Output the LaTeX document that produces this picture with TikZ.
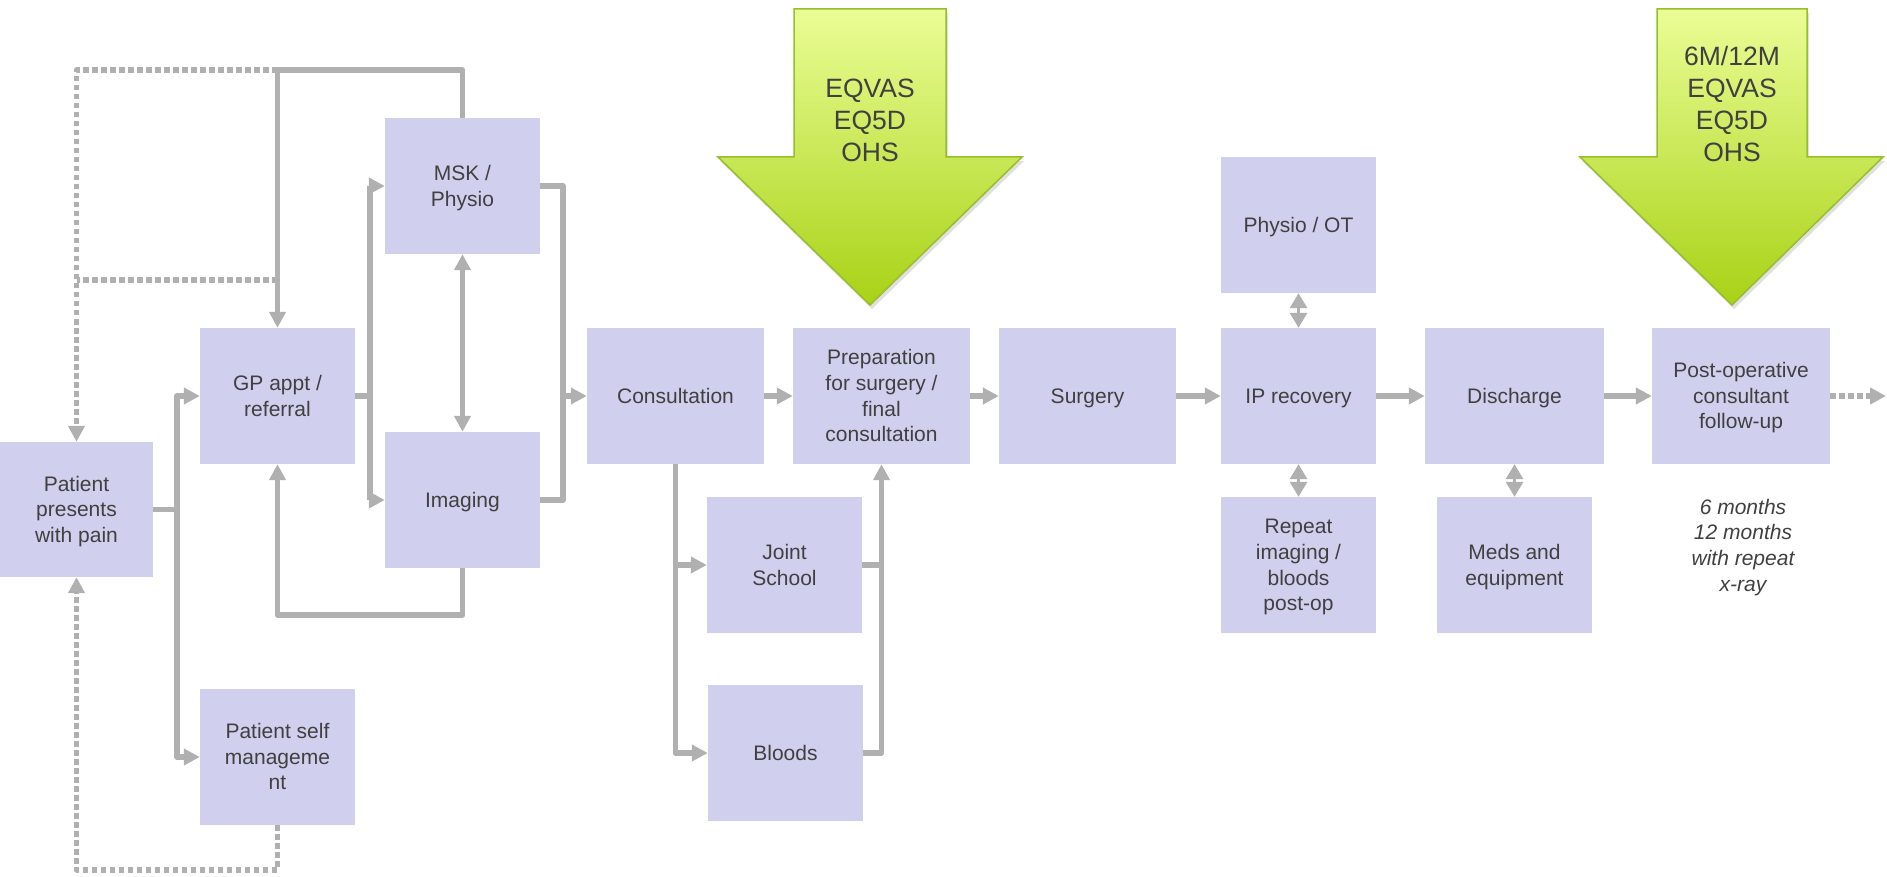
\documentclass[tikz,border=0pt]{standalone}
\usepackage{fontspec}
\setmainfont{Liberation Sans}
\usetikzlibrary{arrows.meta}
\definecolor{boxfill}{RGB}{208,207,238}
\definecolor{txt}{RGB}{64,64,64}
\definecolor{lnk}{RGB}{176,176,176}
\definecolor{gtop}{RGB}{234,253,150}
\definecolor{gbot}{RGB}{168,210,22}
\definecolor{gedge}{RGB}{150,190,45}
\newcommand\lstr{\rule[-0.212em]{0pt}{1.117em}}
\begin{document}
\begin{tikzpicture}[x=1pt,y=-1pt,
  box/.style={fill=boxfill, inner sep=0pt, minimum height=136pt, minimum width=155pt, text=txt, align=center, font=\fontsize{21}{25.6}\selectfont},
  wide/.style={minimum width=177pt},
  conn/.style={draw=lnk, line width=5.5pt, line join=round},
  arr/.style={conn, -{Triangle[length=16pt,width=16pt]}},
  dots/.style={conn, dash pattern=on 5.5pt off 3.5pt},
  dotarr/.style={dots, -{Triangle[length=16pt,width=16pt]}},
  dblwide/.style={conn, {Triangle[length=16pt,width=16pt]}-{Triangle[length=16pt,width=16pt]}},
  dbl/.style={draw=lnk, line width=3pt, {Triangle[length=15pt,width=17pt]}-{Triangle[length=15pt,width=17pt]}},
  bigarrow/.style={draw=gedge, line width=1.5pt, top color=gtop, bottom color=gbot},
  bigshadow/.style={fill=black, opacity=0.12},
  bigtext/.style={text=txt, align=center, font=\fontsize{26.5}{32}\selectfont, anchor=south, inner sep=0pt},
]
\useasboundingbox (0,0) rectangle (1887,877);

% green measurement arrows
\begin{scope}[shift={(2,4)}]
\path[bigshadow] (794,9) -- (946,9) -- (946,157) -- (1022,157) -- (870,305) -- (718,157) -- (794,157) -- cycle;
\path[bigshadow] (1657,9) -- (1807,9) -- (1807,157) -- (1883,157) -- (1732,305) -- (1580,157) -- (1657,157) -- cycle;
\end{scope}
\path[bigarrow] (794,9) -- (946,9) -- (946,157) -- (1022,157) -- (870,305) -- (718,157) -- (794,157) -- cycle;
\path[bigarrow] (1657,9) -- (1807,9) -- (1807,157) -- (1883,157) -- (1732,305) -- (1580,157) -- (1657,157) -- cycle;
\node[bigtext] (m1) at (870,167.6) {\lstr EQVAS\\\lstr EQ5D\\\lstr OHS};
\node[bigtext] (m2) at (1732,167.6) {\lstr 6M/12M\\\lstr EQVAS\\\lstr EQ5D\\\lstr OHS};

% boxes
\node[box, minimum width=153pt, minimum height=135pt] (patient) at (76.5,509.5) {\lstr Patient\\\lstr presents\\\lstr with pain};
\node[box] (gp) at (277.5,396) {\lstr GP appt /\\\lstr referral};
\node[box] (self) at (277.5,757) {\lstr Patient self\\\lstr manageme\\\lstr nt};
\node[box] (msk) at (462.5,186) {\lstr MSK /\\\lstr Physio};
\node[box] (imaging) at (462.5,500) {\lstr Imaging};
\node[box,wide] (cons) at (675.5,396) {\lstr Consultation};
\node[box,wide] (prep) at (881.5,396) {\lstr Preparation\\\lstr for surgery /\\\lstr final\\\lstr consultation};
\node[box,wide] (surgery) at (1087.5,396) {\lstr Surgery};
\node[box] (ip) at (1298.5,396) {\lstr IP recovery};
\node[box] (physio) at (1298.5,225) {\lstr Physio / OT};
\node[box] (repeat) at (1298.5,565) {\lstr Repeat\\\lstr imaging /\\\lstr bloods\\\lstr post-op};
\node[box, minimum width=179pt] (discharge) at (1514.5,396) {\lstr Discharge};
\node[box] (meds) at (1514.5,565) {\lstr Meds and\\\lstr equipment};
\node[box, minimum width=178pt] (postop) at (1741,396) {\lstr Post-operative\\\lstr consultant\\\lstr follow-up};
\node[box] (joint) at (784.5,565) {\lstr Joint\\\lstr School};
\node[box] (bloods) at (785.5,753) {\lstr Bloods};
\node[text=txt, align=center, font=\fontsize{21}{25.6}\selectfont\itshape, anchor=north, inner sep=0pt] (note) at (1743,495) {\lstr 6 months\\\lstr 12 months\\\lstr with repeat\\\lstr x-ray};

% helper coordinates
\coordinate (jl) at (177,509.5);
\coordinate (js) at (370,396);
\coordinate (jr) at (563,396);
\coordinate (yb) at (0,615);
\coordinate (yt) at (0,70);
\coordinate (ym) at (0,280);
\coordinate (yd) at (0,870);
\coordinate (far) at (1886,396);

% left part
\draw[conn] (patient.east) -- (jl);
\draw[arr] (jl) |- (gp.west);
\draw[arr] (jl) |- (self.west);
\draw[conn] (gp.east) -- (js);
\draw[arr] (js) |- (msk.west);
\draw[arr] (js) |- (imaging.west);
\draw[conn] (msk.east) -| (jr);
\draw[conn] (imaging.east) -| (jr);
\draw[arr] (jr) -- (cons.west);
\draw[dblwide] (msk.south) -- (imaging.north);
\draw[arr] (imaging.south) -- (imaging.south |- yb) -| (gp.south);
\draw[arr] (msk.north) -- (msk.north |- yt) -| (gp.north);
\draw[dotarr] (gp.north |- yt) -| (patient.north);
\draw[dots] (gp.north |- ym) -- (patient.north |- ym);
\draw[dotarr] (self.south) -- (self.south |- yd) -| (patient.south);

% main flow
\draw[arr] (cons.east) -- (prep.west);
\draw[arr] (prep.east) -- (surgery.west);
\draw[arr] (surgery.east) -- (ip.west);
\draw[arr] (ip.east) -- (discharge.west);
\draw[arr] (discharge.east) -- (postop.west);
\draw[dotarr] (postop.east) -- (far);

% consultation branch
\draw[arr] (cons.south) |- (bloods.west);
\draw[arr] (cons.south |- joint.west) -- (joint.west);
\draw[arr] (bloods.east) -| (prep.south);
\draw[conn] (joint.east) -- (joint.east -| prep.south);

% side links
\draw[dbl] (physio.south) -- (ip.north);
\draw[dbl] (ip.south) -- (repeat.north);
\draw[dbl] (discharge.south) -- (meds.north);
\end{tikzpicture}
\end{document}
